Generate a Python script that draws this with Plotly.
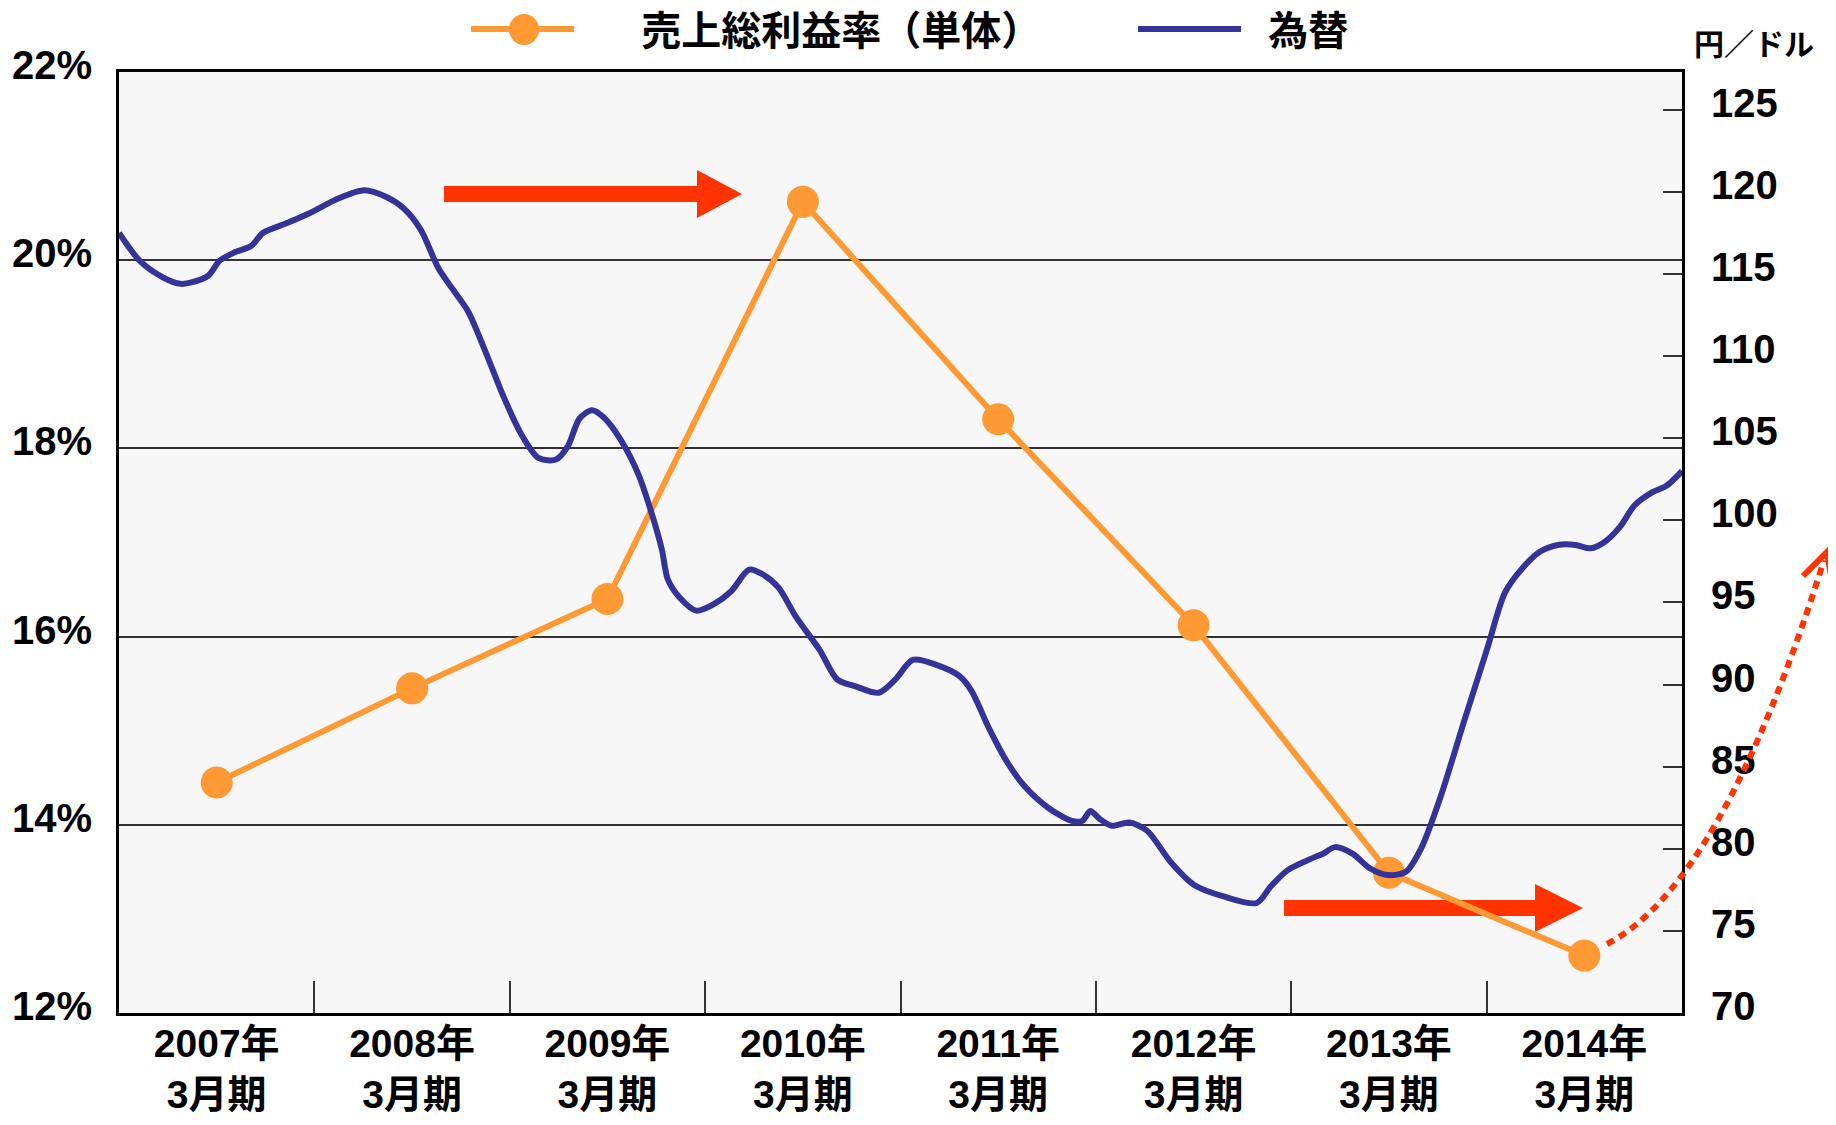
import plotly.graph_objects as go

# 決算期
PERIODS = [
    "2007年<br>3月期", "2008年<br>3月期", "2009年<br>3月期", "2010年<br>3月期",
    "2011年<br>3月期", "2012年<br>3月期", "2013年<br>3月期", "2014年<br>3月期",
]
# 売上総利益率（単体, %）
GROSS_MARGIN = [14.45, 15.45, 16.40, 20.62, 18.31, 16.12, 13.49, 12.61]

# 為替（円／ドル）: 画像から読み取った値
FX_DATES = [
    "2006-04-01", "2006-05-10", "2006-06-22", "2006-07-25", "2006-08-16", "2006-09-15",
    "2006-10-06", "2006-11-02", "2006-12-04", "2006-12-26", "2007-02-09", "2007-03-23",
    "2007-05-16", "2007-07-04", "2007-08-13", "2007-09-15", "2007-10-17", "2007-11-20",
    "2007-12-22", "2008-01-14", "2008-02-16", "2008-03-19", "2008-04-21", "2008-05-24",
    "2008-06-26", "2008-07-18", "2008-08-09", "2008-09-01", "2008-09-22", "2008-10-25",
    "2008-11-27", "2008-12-23", "2009-01-10", "2009-01-21", "2009-02-12", "2009-03-15",
    "2009-04-17", "2009-05-20", "2009-06-22", "2009-07-18", "2009-08-16", "2009-09-18",
    "2009-11-01", "2009-12-04", "2010-01-06", "2010-02-19", "2010-03-22", "2010-04-24",
    "2010-06-07", "2010-07-21", "2010-08-12", "2010-09-14", "2010-10-17", "2010-11-19",
    "2011-01-02", "2011-02-15", "2011-03-07", "2011-03-22", "2011-04-09", "2011-05-01",
    "2011-06-03", "2011-07-06", "2011-08-19", "2011-10-02", "2011-11-26", "2012-01-27",
    "2012-02-22", "2012-03-25", "2012-05-08", "2012-05-30", "2012-06-21", "2012-07-24",
    "2012-08-26", "2012-09-28", "2012-11-01", "2012-11-29", "2013-01-05", "2013-02-18",
    "2013-04-02", "2013-05-05", "2013-06-07", "2013-07-10", "2013-08-12", "2013-09-14",
    "2013-10-12", "2013-11-08", "2013-12-06", "2014-01-02", "2014-02-04", "2014-03-03",
    "2014-04-01",
]
FX_RATE = [
    117.5, 115.8, 114.8, 114.4, 114.5, 114.9,
    115.8, 116.3, 116.7, 117.5, 118.1, 118.7,
    119.6, 120.1, 119.7, 119.0, 117.7, 115.3,
    113.8, 112.7, 110.2, 107.6, 105.3, 103.8,
    103.7, 104.5, 106.2, 106.7, 106.3, 104.9,
    102.8, 100.3, 98.2, 96.4, 95.3, 94.5,
    94.9, 95.7, 97.0, 96.7, 95.9, 94.1,
    92.1, 90.3, 89.9, 89.5, 90.3, 91.5,
    91.2, 90.5, 89.6, 87.3, 85.3, 83.8,
    82.5, 81.7, 81.7, 82.3, 81.8, 81.4,
    81.6, 81.1, 79.2, 77.8, 77.1, 76.7,
    77.7, 78.7, 79.4, 79.7, 80.1, 79.7,
    78.8, 78.4, 78.6, 80.0, 83.2, 87.8,
    92.2, 95.6, 97.1, 98.1, 98.5, 98.5,
    98.3, 98.7, 99.6, 100.9, 101.7, 102.1,
    103.0,
]

ORANGE = "#FF9933"
BLUE = "#333399"
RED = "#FF3300"
FONT = "Liberation Sans, Noto Sans CJK JP, sans-serif"

# ページ(body)の余白 8px を差し引いた図のサイズと余白（px）
W, H = 1820, 1109
ML, MR, MT, MB = 111, 146, 64, 104
PW, PH = W - ML - MR, H - MT - MB


# 画面上の座標 -> paper 座標
def px(x):
    return (x - 8 - ML) / PW


def py(y):
    return (H - MB - (y - 8)) / PH


def block_arrow(x0, xh, x1, yc, shaft, head):
    pts = [
        (x0, yc - shaft / 2), (xh, yc - shaft / 2), (xh, yc - head / 2), (x1, yc),
        (xh, yc + head / 2), (xh, yc + shaft / 2), (x0, yc + shaft / 2),
    ]
    d = "M " + " L ".join(f"{px(a):.5f},{py(b):.5f}" for a, b in pts) + " Z"
    return dict(type="path", path=d, xref="paper", yref="paper",
                fillcolor=RED, line=dict(width=0), layer="between")


fig = go.Figure()

fig.add_trace(go.Scatter(
    x=FX_DATES, y=FX_RATE, name="\u00a0\u00a0為替",
    xaxis="x3", yaxis="y2",
    mode="lines", line=dict(color=BLUE, width=6, shape="spline", smoothing=0.8),
))

fig.add_trace(go.Scatter(
    x=PERIODS, y=GROSS_MARGIN, name="\u3000\u00a0\u00a0売上総利益率（単体）",
    mode="lines+markers",
    line=dict(color=ORANGE, width=6),
    marker=dict(color=ORANGE, size=32),
))

# 矢印（装飾）
curve = (f"M {px(1607):.5f},{py(944):.5f} "
         f"Q {px(1722):.5f},{py(885):.5f} {px(1824):.5f},{py(560):.5f}")
head = (f"M {px(1803):.5f},{py(576):.5f} L {px(1827):.5f},{py(552):.5f} "
        f"L {px(1833):.5f},{py(588):.5f}")

fig.update_layout(
    shapes=[
        block_arrow(444, 697, 742, 194, 16, 48),
        block_arrow(1284, 1535, 1583, 908, 16, 48),
        dict(type="path", path=curve, xref="paper", yref="paper",
             line=dict(color=RED, width=6, dash="8px,6px")),
        dict(type="path", path=head, xref="paper", yref="paper",
             line=dict(color=RED, width=6)),
        # 凡例のマーカーを大きく見せる
        dict(type="circle", xref="paper", yref="paper",
             x0=px(509), x1=px(539), y0=py(45), y1=py(14),
             fillcolor=ORANGE, line=dict(width=0)),
    ],
    annotations=[
        dict(text="<b>円／ドル</b>", x=px(1754), y=py(45), xref="paper", yref="paper",
             xanchor="center", yanchor="middle",
             showarrow=False, font=dict(size=30, color="black")),
    ],
)

fig.update_layout(
    width=W, height=H,
    margin=dict(l=ML, r=MR, t=MT, b=MB, autoexpand=False),
    paper_bgcolor="white",
    plot_bgcolor="#F7F7F7",
    font=dict(family=FONT, size=40, color="black", weight="bold"),
    showlegend=True,
    legend=dict(
        orientation="h", x=px(466), xanchor="left", y=py(29), yanchor="middle",
        font=dict(size=40, weight="bold"), itemwidth=103, traceorder="reversed",
        entrywidth=549, entrywidthmode="pixels", bgcolor="rgba(0,0,0,0)",
    ),
    xaxis=dict(
        type="category", range=[-0.5, 7.5],
        tickson="boundaries", ticks="inside", ticklen=32, tickwidth=1.5, tickcolor="#333",
        showgrid=False, showline=True, linewidth=3, linecolor="black", mirror=True,
        tickfont=dict(size=39), ticklabelstandoff=-6,
    ),
    xaxis3=dict(
        type="date", overlaying="x", range=["2006-04-01", "2014-04-01"], visible=False,
    ),
    yaxis=dict(
        range=[12, 22], dtick=2, ticksuffix="%",
        showgrid=True, gridcolor="#333", gridwidth=1.5,
        showline=True, linewidth=3, linecolor="black", mirror=True,
        ticks="", ticklabelstandoff=16, ticklabelshift=-7, zeroline=False,
    ),
    yaxis2=dict(
        range=[70, 127.3], dtick=5, overlaying="y", side="right", anchor="x",
        showgrid=False, showline=False, zeroline=False,
        ticks="inside", ticklen=19, tickwidth=2, tickcolor="#333",
        ticklabelstandoff=28, ticklabelshift=-7,
    ),
)

fig.write_html("out.html")
